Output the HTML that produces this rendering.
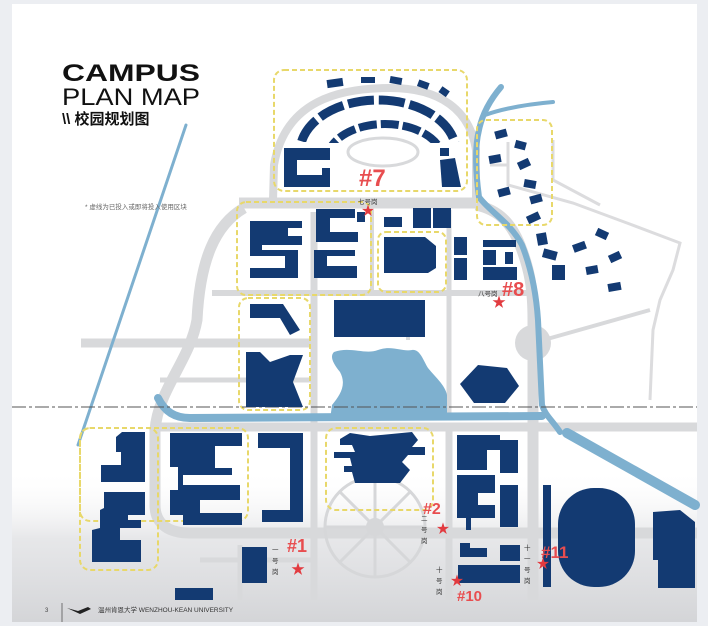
<!DOCTYPE html>
<html><head><meta charset="utf-8"><style>
html,body{margin:0;padding:0;background:#eceef2;}
svg{display:block;}
text{font-family:"Liberation Sans","Noto Sans CJK SC",sans-serif;}
</style></head><body>
<svg width="708" height="626" viewBox="0 0 708 626" xmlns="http://www.w3.org/2000/svg">
<defs>
<linearGradient id="ph" x1="0" y1="0" x2="0" y2="1">
<stop offset="0" stop-color="#ffffff" stop-opacity="0"/>
<stop offset="0.45" stop-color="#dcdde0" stop-opacity="0.7"/>
<stop offset="1" stop-color="#cfd0d3" stop-opacity="0.9"/>
</linearGradient>
<clipPath id="topclip"><rect x="290" y="90" width="180" height="52"/></clipPath>
<clipPath id="topclip2"><rect x="322" y="115" width="132" height="28"/></clipPath>
</defs>
<rect x="0" y="0" width="708" height="626" fill="#eceef2"/>
<rect x="12" y="4" width="685" height="618" fill="#ffffff"/>
<rect x="12" y="470" width="685" height="152" fill="url(#ph)"/>

<g fill="none" stroke="#d8d9db" stroke-linecap="butt">
<path d="M273,200 L274,165 C285,100 340,88 390,88 C440,88 470,110 476,150 L476,200" stroke-width="8"/>
<path d="M239,203 L476,203" stroke-width="11"/>
<path d="M244,208 C215,225 200,260 197,320 C190,360 158,390 155,430 L155,505 C155,525 170,533 190,533 L697,533" stroke-width="11"/>
<path d="M476,205 C500,210 512,225 520,245 C530,270 533,290 533,320 L533,600" stroke-width="11"/>
<path d="M212,293 L533,293" stroke-width="6"/>
<path d="M81,343 L316,343" stroke-width="9"/>
<path d="M153,427 L697,427" stroke-width="9"/>
<path d="M314,212 L314,600" stroke-width="7"/>
<path d="M449,210 L449,420" stroke-width="5"/>
<path d="M449,430 L449,600" stroke-width="7"/>
<path d="M372,210 L372,293" stroke-width="4"/>
<path d="M408,300 L408,340" stroke-width="4"/>
<path d="M160,380 L316,380" stroke-width="5"/>
<path d="M240,545 L240,600 M200,560 L314,560" stroke-width="5"/>
<path d="M533,343 L650,310" stroke-width="4"/>
</g>
<circle cx="533" cy="343" r="18" fill="#d8d9db"/>
<g stroke="#d6d7d9" stroke-width="3" fill="none">
<circle cx="375" cy="527" r="50"/>
<path d="M325,527 L425,527 M375,477 L375,577 M340,492 L410,562 M410,492 L340,562"/>
</g>
<circle cx="375" cy="527" r="9" fill="#d6d7d9"/>
<g fill="none" stroke="#dcdcde" stroke-width="3">
<path d="M508,142 L508,185 L573,203 L627,223 L680,243 L673,270 L660,300 L653,330 L650,400"/>
<path d="M490,165 L508,165"/>
<path d="M553,140 L553,180 L600,205"/>
</g>
<ellipse cx="383" cy="152" rx="35" ry="14" fill="#fff" stroke="#d8d9db" stroke-width="3"/>

<g fill="none" stroke="#7eb0cf" stroke-linecap="round" stroke-linejoin="round">
<path d="M186,125 L78,445" stroke-width="3"/>
<path d="M501,87 C490,100 482,115 479,130 C474,150 476,175 479,197 C490,212 510,222 522,245 C530,265 536,290 538,320 L542,405 C545,415 552,420 560,432" stroke-width="6"/>
<path d="M485,115 C505,108 530,104 553,102" stroke-width="4"/>
<path d="M567,433 L695,505" stroke-width="10"/>
<path d="M158,398 C165,412 175,418 190,418 L542,416" stroke-width="8"/>
</g>
<path d="M334,352 C350,346 365,355 378,350 C392,345 402,352 412,350 C420,349 423,360 428,368 C436,378 445,385 447,395 L447,420 L330,420 L332,405 C340,395 347,385 340,372 C332,362 330,356 334,352 Z" fill="#7eb0cf"/>

<g fill="none" stroke="#e8d86a" stroke-width="2" stroke-dasharray="5,3">
<rect x="274" y="70" width="193" height="121" rx="10"/>
<rect x="477" y="120" width="75" height="105" rx="9"/>
<rect x="237" y="202" width="134" height="93" rx="9"/>
<rect x="378" y="232" width="68" height="60" rx="8"/>
<rect x="239" y="298" width="71" height="112" rx="9"/>
<rect x="80" y="428" width="168" height="93" rx="10"/>
<rect x="80" y="428" width="78" height="142" rx="10"/>
<rect x="326" y="428" width="107" height="82" rx="10"/>
</g>

<line x1="12" y1="407" x2="697" y2="407" stroke="#555" stroke-width="1.3" stroke-dasharray="14,3,3,3" opacity="0.8"/>

<g fill="#133a72">
<rect x="327" y="79" width="16" height="8" transform="rotate(-8 335 83)"/>
<rect x="361" y="77" width="14" height="6"/>
<rect x="390" y="77" width="12" height="7" transform="rotate(10 396 80)"/>
<rect x="418" y="81" width="11" height="7" transform="rotate(20 423 84)"/>
<rect x="440" y="88" width="9" height="7" transform="rotate(35 444 91)"/>
</g>
<g fill="none" stroke="#133a72">
<ellipse cx="378" cy="152" rx="78" ry="52" stroke-width="9" stroke-dasharray="26,5" clip-path="url(#topclip)"/>
<ellipse cx="385" cy="160" rx="58" ry="36" stroke-width="8" stroke-dasharray="18,4" clip-path="url(#topclip2)"/>
</g>
<g fill="#133a72">
<path d="M284,148 L330,148 L330,160 L297,160 L297,175 L322,175 L322,168 L330,168 L330,187 L284,187 Z"/>
<rect x="440" y="148" width="9" height="8"/>
<path d="M440,160 L455,158 L461,187 L442,187 Z"/>
<path d="M250,221 L302,221 L302,228 L288,228 L288,236 L302,236 L302,245 L262,245 L262,250 L298,250 L298,278 L250,278 L250,268 L285,268 L285,256 L250,256 Z"/>
<path d="M316,209 L355,209 L355,218 L330,218 L330,232 L358,232 L358,242 L316,242 Z"/>
<path d="M314,250 L355,250 L355,256 L327,256 L327,266 L357,266 L357,278 L314,278 Z"/>
<rect x="357" y="212" width="8" height="10"/>
<rect x="384" y="217" width="18" height="10"/>
<rect x="413" y="208" width="18" height="20"/>
<rect x="433" y="208" width="18" height="20"/>
<path d="M384,237 L425,237 L436,246 L436,268 L428,273 L384,273 Z"/>
<rect x="454" y="237" width="13" height="18"/>
<rect x="454" y="258" width="13" height="22"/>
<rect x="483" y="240" width="33" height="7"/>
<rect x="483" y="250" width="13" height="15"/>
<rect x="505" y="252" width="8" height="12"/>
<rect x="483" y="267" width="34" height="13"/>
<path d="M250,304 L283,304 L300,330 L290,335 L280,318 L250,318 Z"/>
<rect x="334" y="300" width="91" height="37"/>
<path d="M246,352 L260,352 L270,362 L290,355 L303,355 L293,382 L303,407 L246,407 Z"/>
<path d="M460,384 L478,365 L507,368 L519,386 L505,403 L474,403 Z"/>
<path d="M116,437 L122,432 L145,432 L145,482 L101,482 L101,465 L121,465 L121,452 L116,452 Z"/>
<path d="M104,492 L145,492 L145,515 L128,515 L128,520 L141,520 L141,528 L120,528 L120,540 L141,540 L141,562 L92,562 L92,530 L100,528 L100,510 L104,508 Z"/>
<path d="M170,433 L242,433 L242,446 L215,446 L215,468 L232,468 L232,475 L183,475 L183,485 L240,485 L240,500 L200,500 L200,513 L242,513 L242,525 L183,525 L183,515 L170,515 L170,490 L178,490 L178,467 L170,467 Z"/>
<path d="M258,433 L303,433 L303,522 L262,522 L262,510 L290,510 L290,448 L258,448 Z"/>
<rect x="242" y="547" width="25" height="36"/>
<rect x="175" y="588" width="38" height="12"/>
<path d="M350,433 L370,436 L412,432 L418,440 L412,447 L425,447 L425,455 L408,455 L402,462 L410,470 L400,483 L355,483 L352,472 L344,472 L344,466 L352,466 L350,458 L334,458 L334,452 L355,452 L352,445 L340,445 L340,439 Z"/>
<path d="M457,435 L500,435 L500,450 L487,450 L487,470 L457,470 Z"/>
<rect x="500" y="440" width="18" height="33"/>
<path d="M457,475 L495,475 L495,493 L478,493 L478,505 L495,505 L495,518 L471,518 L471,530 L466,530 L466,518 L457,518 Z"/>
<rect x="500" y="485" width="18" height="42"/>
<path d="M460,543 L470,543 L470,548 L487,548 L487,557 L460,557 Z"/>
<rect x="500" y="545" width="20" height="16"/>
<rect x="458" y="565" width="62" height="18"/>
<rect x="543" y="485" width="8" height="102"/>
<rect x="558" y="488" width="77" height="99" rx="36"/>
<path d="M653,512 L680,510 L695,522 L695,588 L658,588 L658,560 L653,560 Z"/>
<rect x="495" y="130" width="12" height="8" transform="rotate(-15 501 134)"/>
<rect x="515" y="141" width="11" height="8" transform="rotate(15 520 145)"/>
<rect x="489" y="155" width="12" height="8" transform="rotate(-10 495 159)"/>
<rect x="518" y="160" width="12" height="8" transform="rotate(-25 524 164)"/>
<rect x="524" y="180" width="12" height="8" transform="rotate(10 530 184)"/>
<rect x="498" y="188" width="12" height="8" transform="rotate(-15 504 192)"/>
<rect x="530" y="195" width="12" height="8" transform="rotate(-15 536 199)"/>
<rect x="527" y="214" width="13" height="8" transform="rotate(-25 533 218)"/>
<rect x="537" y="233" width="10" height="12" transform="rotate(-10 542 239)"/>
<rect x="543" y="250" width="14" height="9" transform="rotate(15 550 254)"/>
<rect x="552" y="265" width="13" height="15"/>
<rect x="573" y="243" width="13" height="8" transform="rotate(-20 579 247)"/>
<rect x="596" y="230" width="12" height="8" transform="rotate(25 602 234)"/>
<rect x="609" y="253" width="12" height="8" transform="rotate(-25 615 257)"/>
<rect x="586" y="266" width="12" height="8" transform="rotate(-10 592 270)"/>
<rect x="608" y="283" width="13" height="8" transform="rotate(-10 614 287)"/>
</g>

<text x="62" y="81" font-size="24" font-weight="bold" textLength="138" lengthAdjust="spacingAndGlyphs" fill="#111">CAMPUS</text>
<text x="62" y="105" font-size="24" textLength="138" lengthAdjust="spacingAndGlyphs" fill="#111">PLAN MAP</text>
<text x="62" y="124" font-size="15" font-weight="bold" fill="#111">\\ 校园规划图</text>
<text x="85" y="209" font-size="6.5" fill="#666">* 虚线为已投入或即将投入使用区块</text>

<g fill="#e84d4f" font-weight="bold">
<text x="359" y="186" font-size="24">#7</text>
<text x="502" y="296" font-size="20">#8</text>
<text x="287" y="552" font-size="18">#1</text>
<text x="423" y="514" font-size="16">#2</text>
<text x="457" y="601" font-size="15">#10</text>
<text x="541" y="558" font-size="17">#11</text>
</g>
<g fill="#e23b40">
<text x="368" y="215" font-size="13" text-anchor="middle">★</text>
<text x="499" y="307" font-size="14" text-anchor="middle">★</text>
<text x="298" y="574" font-size="14" text-anchor="middle">★</text>
<text x="443" y="533" font-size="13" text-anchor="middle">★</text>
<text x="457" y="585" font-size="13" text-anchor="middle">★</text>
<text x="543" y="568" font-size="13" text-anchor="middle">★</text>
</g>
<g fill="#333" font-size="6.5">
<text x="358" y="204">七号岗</text>
<text x="478" y="296">八号岗</text>
<text x="272" y="552">一</text><text x="272" y="563">号</text><text x="272" y="574">岗</text>
<text x="421" y="521">二</text><text x="421" y="532">号</text><text x="421" y="543">岗</text>
<text x="436" y="572">十</text><text x="436" y="583">号</text><text x="436" y="594">岗</text>
<text x="524" y="550">十</text><text x="524" y="561">一</text><text x="524" y="572">号</text><text x="524" y="583">岗</text>
</g>

<text x="45" y="612" font-size="6" fill="#444">3</text>
<line x1="62" y1="603" x2="62" y2="622" stroke="#555" stroke-width="0.8"/>
<path d="M67,608 L78,611 L88,607 L91,609 L80,614 Z" fill="#222"/>
<text x="98" y="612" font-size="6.5" fill="#333">温州肯恩大学  WENZHOU-KEAN UNIVERSITY</text>
</svg>
</body></html>
